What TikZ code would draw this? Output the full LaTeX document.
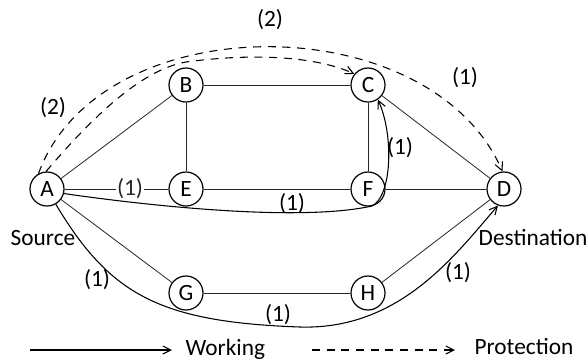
\documentclass[tikz,border=0pt]{standalone}
\usepackage{fontspec}
\setmainfont{Carlito}
\usetikzlibrary{arrows.meta}

\begin{document}
\begin{tikzpicture}[x=0.75pt,y=0.75pt,yscale=-1,xscale=1,
  city/.style={draw,circle,line width=0.9pt,minimum size=25.5pt,inner sep=0pt,font=\fontsize{17.5}{20}\selectfont},
  link/.style={line width=0.6pt,color=black!85},
  work/.style={line width=0.8pt,-{Straight Barb[length=6pt,width=6pt]}},
  prot/.style={line width=0.8pt,dash pattern=on 6pt off 5pt,-{Straight Barb[length=6pt,width=6pt]}},
  lbl/.style={font=\fontsize{17.5}{20}\selectfont,inner sep=1pt}]
\useasboundingbox (0,0) rectangle (588,362);

% Nodes
\node [city] (A) at (47,189) {A};
\node [city] (B) at (186,85) {B};
\node [city] (C) at (368,85) {C};
\node [city] (D) at (504,189) {D};
\node [city] (E) at (186,189) {E};
\node [city] (F) at (368,189) {F};
\node [city] (G) at (186,293) {G};
\node [city] (H) at (368,293) {H};

% Links
\draw [link] (A) -- (B);
\draw [link] (A) -- (G);
\draw [link] (B) -- (C);
\draw [link] (B) -- (E);
\draw [link] (E) -- (F);
\draw [link] (C) -- (F);
\draw [link] (C) -- (D);
\draw [link] (F) -- (D);
\draw [link] (G) -- (H);
\draw [link] (H) -- (D);
% Link A-E, broken by its label
\draw [link] (A) -- (E) node [lbl,pos=0.63,fill=white] {(1)};

% Working paths
\draw [work] (A.-15) .. controls (150,206) and (300,222) .. (372,206) .. controls (392,196) and (394,135) .. (C.-56);
\draw [work] (A.-60) .. controls (110,295) and (160,322) .. (300,327) .. controls (400,330) and (455,255) .. (D.-110);

% Protection paths
\draw [prot] (A.119) .. controls (100,5) and (430,5) .. (D.95);
\draw [prot] (A.93) .. controls (90,120) and (140,70) .. (186,62) .. controls (260,52) and (320,58) .. (C.141);

% Labels
\node [lbl] (l1) at (270,20) {(2)};
\node [lbl] (l2) at (53,108) {(2)};
\node [lbl] (l3) at (465,78) {(1)};
\node [lbl] (l4) at (400,148) {(1)};
\node [lbl] (l5) at (292,204) {(1)};
\node [lbl] (l6) at (97,280) {(1)};
\node [lbl] (l7) at (458,273) {(1)};
\node [lbl] (l8) at (278,315) {(1)};
\node [lbl] (src) at (43,238) {Source};
\node [lbl] (dst) at (533,238) {Destination};

% Legend
\coordinate (w1) at (30,350);
\coordinate (w2) at (172,350);
\coordinate (p1) at (312,350);
\coordinate (p2) at (455,350);
\draw [work] (w1) -- (w2);
\draw [prot] (p1) -- (p2);
\node [lbl,anchor=west] (wk) at (184,349) {Working};
\node [lbl,anchor=west] (pr) at (473,347) {Protection};

\end{tikzpicture}
\end{document}
